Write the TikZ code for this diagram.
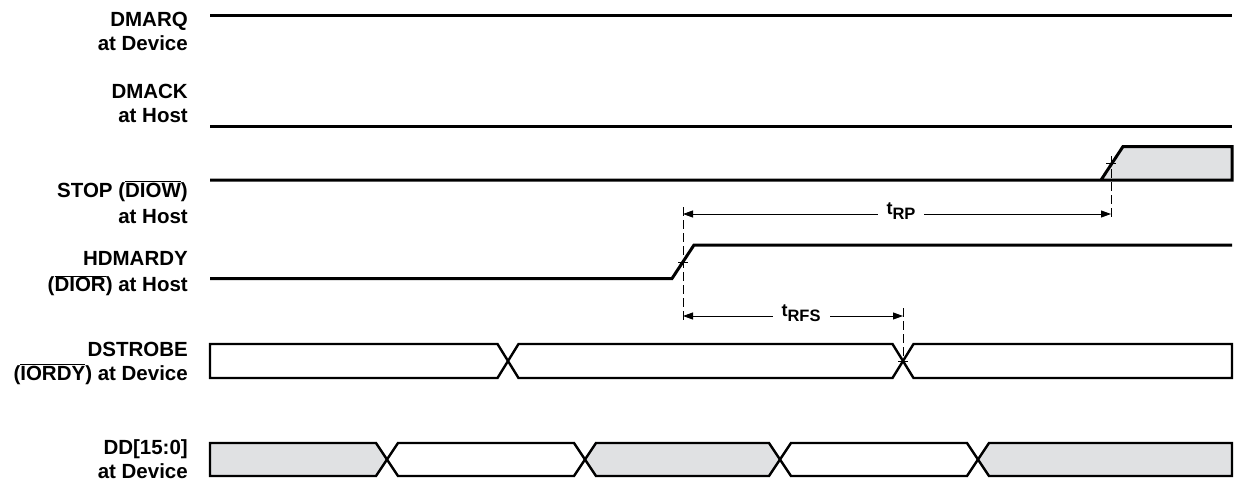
\documentclass[tikz,border=0pt]{standalone}
\usepackage{fontspec}
\setmainfont{Liberation Sans}
\usetikzlibrary{arrows.meta}
\newcommand\ovl[1]{$\overline{\mbox{#1}}$}
\newcommand\tsub[1]{{\fontsize{18}{18}\selectfont t}\raisebox{-5.5pt}{\fontsize{16.5}{16.5}\selectfont #1}}
\definecolor{busfill}{RGB}{224,225,227}
\begin{document}
\begin{tikzpicture}[x=1pt,y=-1pt,
  sig/.style={line width=3pt, line join=miter},
  busline/.style={line width=2.4pt, line join=miter, draw=black},
  lbl/.style={anchor=base east, font=\bfseries\fontsize{20.5}{24}\selectfont, inner sep=0pt, align=right},
  dline/.style={line width=0.8pt, dash pattern=on 9pt off 4pt},
  tick/.style={line width=0.8pt},
  dimarrow/.style={line width=0.9pt, {Triangle[length=10pt,width=7pt]}-{Triangle[length=10pt,width=7pt]}},
  tlbl/.style={font=\bfseries, fill=white, inner xsep=9pt, inner ysep=1pt, anchor=base}
]
\useasboundingbox (0,0) rectangle (1236,493);

% labels (anchor = baseline of the last line)
\node[lbl] (lDMARQ) at (188,50) {DMARQ\\at Device};
\node[lbl] (lDMACK) at (188,122) {DMACK\\at Host};
\node[lbl] (lSTOP) at (188,223) {STOP (\ovl{DIOW})\\[2pt]at Host};
\node[lbl] (lHDM) at (188,291.5) {HDMARDY\\[2pt](\ovl{DIOR}) at Host};
\node[lbl] (lDS) at (188,380) {DSTROBE\\(\ovl{IORDY}) at Device};
\node[lbl] (lDD) at (188,478) {DD[15:0]\\at Device};

% DMARQ, DMACK
\draw[sig] (210,15) -- (1232,15);
\draw[sig] (210,126) -- (1232,126);

% STOP
\fill[busfill] (1101,180) -- (1123,146.5) -- (1232,146.5) -- (1232,180) -- cycle;
\draw[sig] (210,180) -- (1101,180) -- (1123,146.5) -- (1232,146.5) -- (1232,180) -- (1101,180);

% HDMARDY
\draw[sig] (210,278.5) -- (672,278.5) -- (694,245) -- (1232,245);

% DSTROBE bus
\draw[busline, fill=white] (210,344) -- (497.5,344) -- (508,361) -- (497.5,378) -- (210,378) -- cycle;
\draw[busline, fill=white] (508,361) -- (518.5,344) -- (892.5,344) -- (903,361) -- (892.5,378) -- (518.5,378) -- cycle;
\draw[busline, fill=white] (903,361) -- (913.5,344) -- (1232,344) -- (1232,378) -- (913.5,378) -- cycle;

% DD bus
\draw[busline, fill=busfill] (210,443) -- (376,443) -- (387,459.5) -- (376,476) -- (210,476) -- cycle;
\draw[busline, fill=white] (387,459.5) -- (398,443) -- (574,443) -- (585,459.5) -- (574,476) -- (398,476) -- cycle;
\draw[busline, fill=busfill] (585,459.5) -- (596,443) -- (769,443) -- (780,459.5) -- (769,476) -- (596,476) -- cycle;
\draw[busline, fill=white] (780,459.5) -- (791,443) -- (967,443) -- (978,459.5) -- (967,476) -- (791,476) -- cycle;
\draw[busline, fill=busfill] (978,459.5) -- (989,443) -- (1232,443) -- (1232,476) -- (989,476) -- cycle;

% reference coordinates
\coordinate (hA) at (683,262);
\coordinate (sA) at (1111,163);
\coordinate (dA) at (903,361);
\coordinate (rpL) at (683,214);
\coordinate (rpR) at (1111,214);
\coordinate (rfL) at (683,316);
\coordinate (rfR) at (903,316);

% dashed guides and ticks
\draw[dline] (683,207) -- (683,320);
\draw[dline] (1111,156) -- (1111,218);
\draw[dline] (903,308) -- (903,361);
\draw[tick] ([xshift=-5pt]hA) -- ([xshift=5pt]hA);
\draw[tick] ([xshift=-5pt]sA) -- ([xshift=5pt]sA);
\draw[tick] ([xshift=-5pt]dA) -- ([xshift=5pt]dA);

% timing arrows
\draw[dimarrow] (rpL) -- (rpR);
\node[tlbl] (tRP) at (901,214) {\tsub{RP}};
\draw[dimarrow] (rfL) -- (rfR);
\node[tlbl] (tRFS) at (801,316) {\tsub{RFS}};
\end{tikzpicture}
\end{document}
